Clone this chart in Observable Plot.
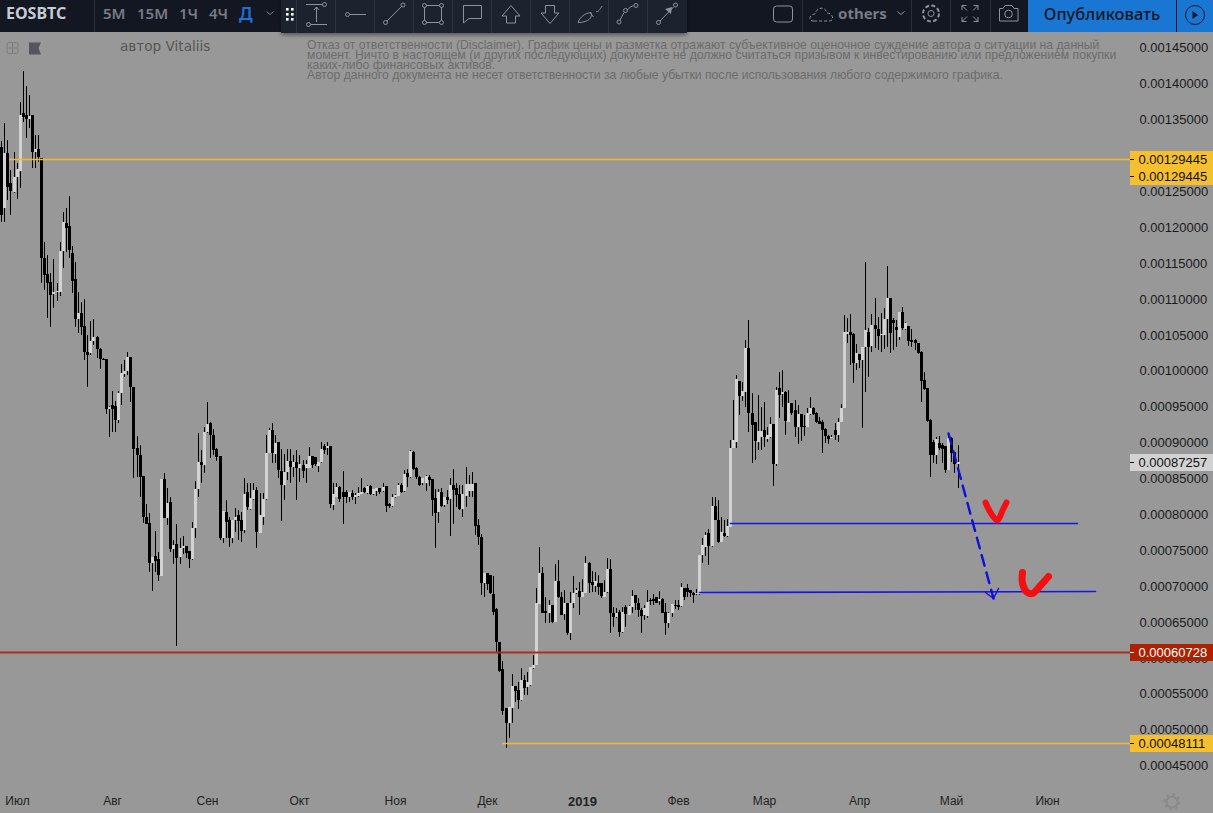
<!DOCTYPE html>
<html lang="ru">
<head>
<meta charset="utf-8">
<title>EOSBTC</title>
<script src="https://cdn.jsdelivr.net/npm/d3@7"></script>
<script src="https://cdn.jsdelivr.net/npm/@observablehq/plot@0.6"></script>
<style>
html,body{margin:0;padding:0;background:#989898;overflow:hidden;width:1213px;height:813px}
#wrap{position:relative;width:1213px;height:813px}
#wrap>svg{display:block}
.n{position:absolute;white-space:nowrap}
#author{left:120px;top:38px;font:13.6px "DejaVu Sans",sans-serif;color:#555}
.d{left:307px;font:12.2px "Liberation Sans",Arial,sans-serif;color:#6c6c6c;line-height:10px}
</style>
</head>
<body>
<div id="wrap">
<div id="chart"></div>
<svg id="top" width="1213" height="60" style="position:absolute;left:0;top:0" xmlns="http://www.w3.org/2000/svg">
<defs><filter id="s" x="-5%" y="-20%" width="110%" height="150%"><feDropShadow dx="0" dy="2" stdDeviation="2" flood-color="#000" flood-opacity=".45"/></filter></defs>
<rect x="0" y="0" width="1213" height="32" fill="#131722"/>
<text x="6" y="19" font-family="Noto Sans" font-weight="700" font-size="16" fill="#c8cbd3">EOSBTC</text>
<path d="M94.5 0V32" stroke="#2a2e39"/>
<g font-family="Noto Sans" font-size="15" font-weight="600" fill="#787b86">
<text x="103" y="19">5M</text><text x="137" y="19">15M</text><text x="179" y="19">1Ч</text><text x="209" y="19">4Ч</text>
<text x="239" y="20" fill="#1e6fd0" font-size="18">Д</text></g>
<path d="M266.5 11.5l3.5 3 3.5-3" fill="none" stroke="#787b86"/>
<rect x="281" y="0" width="406" height="33" fill="#1e222d" filter="url(#s)"/>
<g fill="#fff"><rect x="286" y="8" width="2.6" height="2.6"/><rect x="291" y="8" width="2.6" height="2.6"/><rect x="286" y="13" width="2.6" height="2.6"/><rect x="291" y="13" width="2.6" height="2.6"/><rect x="286" y="18" width="2.6" height="2.6"/><rect x="291" y="18" width="2.6" height="2.6"/></g>
<g stroke="#2f3340"><path d="M296.5 0V33M335.5 0V33M374.5 0V33M413.5 0V33M452.5 0V33M491.5 0V33M530.5 0V33M569.5 0V33M608.5 0V33M647.5 0V33"/></g>
<g fill="none" stroke="#8e929c" stroke-width="1">
<path d="M306 4.5H322.5M310.5 24.5H327M316.5 22V7M314 10l2.5-3 2.5 3"/><circle cx="324.5" cy="4.5" r="2"/><circle cx="308.5" cy="24.5" r="2"/>
<path d="M350 14.5H366"/><circle cx="347.5" cy="14.5" r="2"/>
<path d="M387 21L401.5 6.5"/><circle cx="385.5" cy="22.5" r="2"/><circle cx="403" cy="5" r="2"/>
<path d="M426 5.5H439.5M426 22.5H439.5M424.5 7.5V20.5M441.5 7.5V20.5"/><circle cx="424.5" cy="5.5" r="2"/><circle cx="441.5" cy="5.5" r="2"/><circle cx="424.5" cy="22.5" r="2"/><circle cx="441.5" cy="22.5" r="2"/>
<path d="M463.5 5.5H481.5V18.5H469L463.5 23Z"/>
<path d="M511 5.5L520 16H515.5V23H506.5V16H502Z"/>
<path d="M545.5 5.5H554.5V13H559L550 23.5L541 13H545.5Z"/>
<path d="M578 22.5C580 17 585 13 591 12.5C593 17 589 22.5 578 22.5ZM590 12.5L593.5 17M596 11C597 13 600 10 602 6"/>
<path d="M620 20L624 12.5M627 10.5C629 7.5 632 6 634 5.5"/><circle cx="619" cy="22" r="2"/><circle cx="625.5" cy="10.5" r="2"/><circle cx="636" cy="5.5" r="2"/>
<path d="M660 21L673.5 7"/><circle cx="658.5" cy="22.5" r="2"/><circle cx="675.5" cy="5" r="2"/></g>
<path d="M672 7l-1 7-6-5z" fill="#8e929c"/>
<g stroke="#2a2e39"><path d="M802.5 0V32M911.5 0V32M950.5 0V32M990.5 0V32"/></g>
<g fill="none" stroke="#8e929c" stroke-width="1">
<rect x="773.5" y="6" width="19" height="16" rx="3"/>
<path d="M814 21C807 21 810 14 815 14C816 8 825 5 827 13C833 13 835 21 829 21Z" stroke-dasharray="3 2"/>
<path d="M897.5 11.5l3.5 3 3.5-3"/>
<circle cx="931" cy="13.5" r="3"/><circle cx="931" cy="13.5" r="8" stroke-dasharray="4 2.3" stroke-width="2"/>
<path d="M962 10V5.5H966.5M962 5.5L967 10.5M978 10V5.5H973.5M978 5.5L973 10.5M962 17V21.5H966.5M962 21.5L967 16.5M978 17V21.5H973.5M978 21.5L973 16.5"/>
<path d="M999.5 8.5H1003L1005 5.5H1012L1014 8.5H1018V21H999.5Z"/><circle cx="1008.5" cy="14" r="3.8"/></g>
<text x="838" y="19" font-family="Noto Sans" font-weight="700" font-size="15" fill="#787b86">others</text>
<rect x="1028" y="0" width="148" height="32" fill="#1976d2"/><rect x="1177" y="0" width="36" height="32" fill="#1976d2"/>
<text x="1102" y="20" text-anchor="middle" font-family="Noto Sans" font-size="16.5" font-weight="500" fill="#131722">Опубликовать</text>
<circle cx="1195" cy="15" r="9.5" fill="none" stroke="#131722"/><path d="M1192.5 11l5.5 4-5.5 4z" fill="#131722"/>
<rect x="7" y="42.5" width="11" height="11" rx="1.5" fill="none" stroke="#7d7d7d"/><path d="M12.5 43V53M7.5 48H17.5" stroke="#7d7d7d"/>
<path d="M29 42.5H41L38.5 48L41 54.5H29Z" fill="#55555e"/>
</svg>
<div class="n" id="author">автор Vitaliis</div>
<div class="n d" style="top:40px">Отказ от ответственности (Disclaimer). График цены и разметка отражают субъективное оценочное суждение автора о ситуации на данный</div>
<div class="n d" style="top:50px">момент. Ничто в настоящем (и других последующих) документе не должно считаться призывом к инвестированию или предложением покупки</div>
<div class="n d" style="top:60px">каких-либо финансовых активов.</div>
<div class="n d" style="top:70px">Автор данного документа не несет ответственности за любые убытки после использования любого содержимого графика.</div>
<svg width="20" height="20" style="position:absolute;left:1162px;top:792px"><circle cx="10" cy="10" r="5.5" fill="none" stroke="#8a8a8a" stroke-width="2"/><circle cx="10" cy="10" r="7.5" fill="none" stroke="#8a8a8a" stroke-width="2" stroke-dasharray="2.5 3.4"/></svg>
</div>
<script>
// Values in millionths of BTC (0.000001)
const opens = [
1311,1226,1303,1261,1248,1269,1278,1359,1356,1350,
1356,1304,1308,1296,1157,1134,1123,1106,1109,1109,
1166,1205,1201,1164,1127,1072,1080,1062,1026,1024,
1041,1047,1030,1016,1016,946,952,950,931,969,
995,999,1019,977,892,882,853,796,787,732,
741,737,714,849,794,817,751,758,740,753,
755,748,737,780,835,872,868,914,927,910,
890,881,767,803,792,767,792,799,792,778,
831,807,821,833,773,796,821,885,917,883,
900,860,840,858,874,865,872,864,868,864,
864,881,879,867,872,895,892,895,812,824,
838,831,831,824,829,824,825,828,836,829,
839,828,832,836,832,839,814,811,824,825,
840,832,857,852,886,864,852,843,843,851,
849,822,803,831,813,824,821,840,836,828,
807,825,832,832,843,785,768,704,718,715,
689,668,622,584,530,509,530,561,555,541,
569,559,562,585,590,675,718,665,662,673,
650,707,684,661,676,634,676,690,693,684,
690,732,705,700,704,704,684,691,723,662,
657,663,636,670,659,670,687,676,666,659,
658,680,682,684,679,682,663,648,662,673,
673,672,697,697,694,690,689,689,743,754,
773,755,811,792,761,773,769,782,892,900,
985,964,970,1031,941,928,900,907,917,904,
907,925,870,975,967,970,928,955,945,921,
939,923,921,939,948,941,930,928,918,909,
906,917,910,928,948,1051,1053,1051,1010,1023,
1014,1033,1053,1034,1063,1058,1049,1049,1072,1101,
1070,1060,1047,1081,1058,1062,1042,1042,1038,1026,
987,975,931,900,882,899,896,895,861,906,
886,870];
const highs = [
1319,1345,1321,1279,1304,1289,1374,1417,1396,1384,
1356,1328,1328,1296,1179,1161,1136,1155,1122,1179,
1221,1226,1243,1173,1151,1109,1095,1099,1049,1069,
1072,1048,1031,1017,1016,950,971,957,971,1009,
1014,1026,1019,977,909,896,853,814,801,740,
776,747,849,857,836,824,764,786,766,769,
755,748,789,846,913,889,921,956,928,918,
892,881,804,819,796,792,808,805,803,850,
843,843,843,838,829,829,910,920,927,910,
900,890,883,890,890,882,889,882,875,875,
893,881,879,872,900,897,900,895,843,843,
839,860,833,831,833,829,838,850,838,840,
840,835,836,836,843,839,815,828,828,843,
843,861,863,889,888,865,853,850,854,854,
849,835,835,836,824,833,850,863,843,840,
840,866,854,858,843,793,772,718,718,715,
714,669,622,595,530,531,577,561,566,585,
576,580,587,603,697,754,726,684,680,673,
730,736,691,694,676,691,714,697,705,709,
741,733,721,719,715,704,708,739,737,670,
669,666,670,673,673,694,687,683,669,673,
694,683,689,684,693,683,676,663,675,680,
680,704,697,703,694,691,696,743,766,775,
779,823,823,819,796,792,793,903,959,994,
985,984,1042,1070,969,928,966,949,956,921,
935,925,977,998,1000,971,973,955,959,952,
939,938,948,963,949,942,935,931,920,910,
910,927,934,953,1077,1073,1079,1052,1037,1023,
1033,1151,1059,1078,1101,1074,1080,1087,1145,1101,
1073,1070,1081,1088,1067,1062,1058,1044,1038,1027,
998,975,932,903,907,909,899,895,913,907,
886,896];
const lows = [
1207,1207,1237,1216,1247,1239,1254,1346,1324,1338,
1282,1282,1290,1122,1112,1073,1060,1087,1097,1104,
1143,1165,1157,1108,1060,1052,1049,1014,977,1021,
1035,1017,1002,1014,939,907,914,914,927,952,
991,994,956,850,852,824,787,786,719,693,
719,707,714,794,785,747,730,616,730,744,
739,725,736,766,824,843,857,913,878,882,
874,764,760,767,754,760,775,764,761,773,
805,805,819,753,773,785,819,885,871,871,
850,790,819,847,843,852,819,844,850,843,
864,864,867,859,871,883,882,808,805,824,
817,786,815,817,819,814,824,828,829,828,
826,826,825,828,831,803,808,810,822,825,
829,831,838,850,861,849,839,840,832,839,
797,753,787,810,810,814,769,786,810,805,
796,810,824,824,771,757,687,684,694,689,
659,608,580,520,474,488,509,538,528,540,
548,548,560,584,590,675,662,648,648,648,
650,683,659,652,631,624,669,689,659,684,
690,690,691,691,687,683,684,690,634,642,
655,629,634,642,659,662,666,657,634,652,
655,673,673,676,673,662,631,641,657,668,
666,670,680,684,684,676,687,687,732,741,
729,754,792,760,761,768,768,782,892,892,
938,957,949,914,871,875,889,889,893,900,
906,839,867,934,949,910,928,938,907,897,
902,909,921,938,938,927,925,885,899,897,
906,903,900,928,948,1038,1008,982,1000,1003,
920,970,991,1026,1031,1028,1026,1030,1033,1024,
1028,1033,1042,1056,1056,1034,1033,1028,1023,956,
973,928,852,871,870,889,871,857,861,872,
857,836];
const closes = [
1216,1303,1255,1250,1269,1280,1356,1353,1350,1354,
1304,1308,1297,1157,1133,1122,1105,1109,1111,1166,
1207,1198,1168,1125,1072,1080,1060,1026,1021,1041,
1047,1030,1016,1014,946,949,946,931,969,996,
999,1019,977,891,882,852,796,786,732,740,
734,715,849,794,815,751,757,739,753,755,
746,737,780,835,872,868,914,925,910,889,
879,767,804,789,767,792,796,790,776,828,
810,822,833,775,799,821,885,917,885,899,
861,840,858,874,865,872,864,870,860,870,
881,868,870,872,890,889,895,814,828,838,
821,824,824,831,824,827,829,831,831,839,
828,835,836,831,838,811,811,824,827,840,
831,856,852,888,863,852,840,850,853,847,
819,801,831,811,824,819,840,833,826,807,
828,842,842,842,783,768,704,718,702,690,
663,622,581,525,509,531,561,553,541,569,
558,566,587,590,676,718,662,662,673,650,
707,684,659,676,634,676,690,694,684,691,
732,704,701,707,698,686,691,723,662,657,
662,636,663,661,672,686,676,666,658,669,
677,679,679,676,682,662,648,662,675,672,
670,698,684,691,690,687,690,743,757,771,
755,811,792,761,775,769,783,892,903,988,
964,971,1031,941,924,902,915,915,907,910,
925,870,973,966,970,930,955,941,921,939,
921,921,941,948,939,928,925,917,909,904,
907,910,928,948,1053,1053,1049,1010,1024,1014,
1033,1056,1033,1063,1058,1048,1051,1072,1101,1052,
1066,1056,1081,1059,1066,1041,1040,1038,1024,985,
974,930,882,882,904,892,891,861,906,885,
870,873];

const priceTicks = [450,500,550,600,650,700,750,800,850,900,950,1000,1050,1100,1150,1200,1250,1300,1350,1400,1450];
const monthDates = ["2018-07-01","2018-08-01","2018-09-01","2018-10-01","2018-11-01","2018-12-01","2019-02-01","2019-03-01","2019-04-01","2019-05-01","2019-06-01"];
const monthNames = ["Июл","Авг","Сен","Окт","Ноя","Дек","Фев","Мар","Апр","Май","Июн"];
const yearDate = ["2019-01-01"];
const resistance = 0.00129445, support = 0.00060728, bottom = 0.00048111, lastPrice = 0.00087257;
// Drawings: bar offset from first bar, and price in millionths
const lineUpper = [[237,787],[350,787]];
const lineLower = [[227,691],[355.7,693]];
const arrowPath = [[307.8,913],[322.4,683]];
const arrowHead = [[320,691],[322.4,683],[324.1,697]];
const checkOne = [[320,817],[321.5,803],[323.8,792],[325.5,805],[326.8,817]];
const checkTwo = [[332,719],[332,704],[333.6,691],[335.2,690],[337.8,701],[340.4,714]];

const t0 = Date.UTC(2018,5,26);
const day = i => new Date(t0 + i*864e5);
const toPrice = v => v/1e6;
const candles = opens.map((o,i)=>({date:day(i),o:toPrice(o),h:toPrice(highs[i]),l:toPrice(lows[i]),c:toPrice(closes[i]),up:closes[i]>=o}));
const pts = a => a.map(([i,p])=>({x:day(i),y:toPrice(p)}));
const UP="#d2d2d2", DOWN="#000";
const colorOf = d => d.up?UP:DOWN;
const axisL=day(367.2), axisR=day(394.2), dash=day(368.3), labelX=day(369.8);
const labelMark=(y,fill,ink,dy=0)=>[
  Plot.ruleY([y],{x1:()=>axisL,x2:()=>axisR,stroke:fill,strokeWidth:17,dy}),
  Plot.ruleY([y],{x1:()=>axisL,x2:()=>dash,stroke:ink,dy}),
  Plot.text([y],{x:()=>labelX,y:d=>d,text:d=>d.toFixed(8),textAnchor:"start",fill:ink,fontSize:13,dy})
];

const chart = Plot.plot({
  width:1213,height:813,marginTop:0,marginLeft:0,marginRight:84,marginBottom:27,
  style:{background:"#989898",fontFamily:"'Liberation Sans',Arial,sans-serif",overflow:"visible"},
  x:{type:"utc",domain:[day(0),day(394.2)],range:[1.2,1213.4],round:true},
  y:{type:"linear",domain:[0.00145,0.00045],range:[47.3,765.3],round:true},
  marks:[
    Plot.axisY(priceTicks.map(toPrice),{anchor:"right",tickSize:0,tickPadding:10,fontSize:13,color:"#1a1a1a",tickFormat:d=>d.toFixed(8),label:null}),
    Plot.axisX(monthDates.map(d=>new Date(d)),{anchor:"bottom",tickSize:0,tickPadding:10,fontSize:12,color:"#222",label:null,tickFormat:(d,i)=>monthNames[i]}),
    Plot.axisX(yearDate.map(d=>new Date(d)),{anchor:"bottom",tickSize:0,tickPadding:10,fontSize:13,fontWeight:"bold",color:"#222",label:null,tickFormat:()=>"2019"}),
    Plot.ruleX(candles,{x:"date",y1:"l",y2:"h",stroke:DOWN,strokeWidth:1}),
    Plot.ruleX(candles,{x:"date",y1:"o",y2:"c",stroke:colorOf,strokeWidth:3}),
    Plot.ruleY([resistance],{x1:()=>day(2.5),x2:()=>axisL,stroke:"#f6ba20",strokeWidth:1.5}),
    Plot.ruleY([bottom],{x1:()=>day(163),x2:()=>axisL,stroke:"#f2b830",strokeWidth:1.5}),
    Plot.ruleY([support],{x1:()=>day(-1),x2:()=>axisL,stroke:"#a8301a",strokeWidth:2}),
    Plot.line(pts(lineUpper),{x:"x",y:"y",stroke:"#1414ee",strokeWidth:1.6}),
    Plot.line(pts(lineLower),{x:"x",y:"y",stroke:"#1414ee",strokeWidth:1.6}),
    Plot.line(pts(arrowPath),{x:"x",y:"y",stroke:"#1010d8",strokeWidth:2.4,strokeDasharray:"11 7"}),
    Plot.line(pts(arrowHead),{x:"x",y:"y",stroke:"#1010d8",strokeWidth:1.4}),
    Plot.line(pts(checkOne),{x:"x",y:"y",stroke:"#f41010",strokeWidth:6,curve:"catmull-rom",strokeLinecap:"round"}),
    Plot.line(pts(checkTwo),{x:"x",y:"y",stroke:"#f41010",strokeWidth:7,curve:"catmull-rom",strokeLinecap:"round"}),
    ...labelMark(resistance,"#f5bf2e","#111"),
    ...labelMark(resistance,"#f5bf2e","#111",17),
    ...labelMark(bottom,"#f5bf2e","#111"),
    ...labelMark(support,"#ad2000","#fff"),
    ...labelMark(lastPrice,"#d2d2d2","#111")
  ]
});
document.getElementById("chart").appendChild(chart);
</script>
</body>
</html>
